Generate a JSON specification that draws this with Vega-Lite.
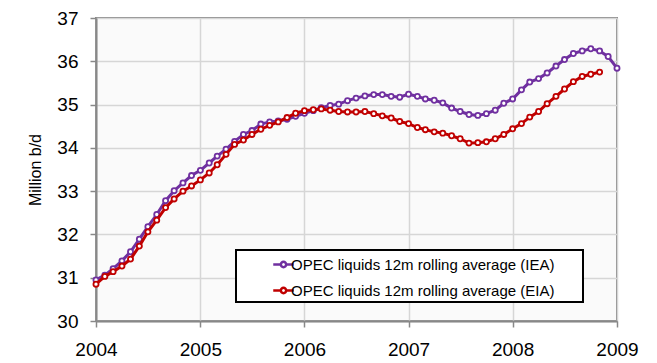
{
  "$schema": "https://vega.github.io/schema/vega-lite/v6.json",
  "width": 521,
  "height": 303,
  "autosize": {"type": "none"},
  "padding": {"left": 96, "top": 18, "right": 40, "bottom": 42},
  "background": "white",
  "config": {
    "font": "Liberation Sans",
    "view": {"fill": "#fafafa", "stroke": "#888888", "strokeWidth": 2},
    "axis": {
      "domainColor": "#888888",
      "domainWidth": 2,
      "tickColor": "#888888",
      "tickWidth": 1.5,
      "gridColor": "#d6d6d6",
      "gridWidth": 1.5,
      "labelColor": "black",
      "labelFont": "Liberation Sans",
      "titleFont": "Liberation Sans",
      "titleColor": "black",
      "titleFontWeight": "normal"
    },
    "legend": {
      "labelFont": "Liberation Sans",
      "strokeWidth": 2
    }
  },
  "datasets": {
    "iea": [
      {"date": "2004-01-01", "value": 30.95},
      {"date": "2004-02-01", "value": 31.06},
      {"date": "2004-03-01", "value": 31.21},
      {"date": "2004-04-01", "value": 31.39},
      {"date": "2004-05-01", "value": 31.60},
      {"date": "2004-06-01", "value": 31.89},
      {"date": "2004-07-01", "value": 32.18},
      {"date": "2004-08-01", "value": 32.46},
      {"date": "2004-09-01", "value": 32.78},
      {"date": "2004-10-01", "value": 33.01},
      {"date": "2004-11-01", "value": 33.19},
      {"date": "2004-12-01", "value": 33.36},
      {"date": "2005-01-01", "value": 33.48},
      {"date": "2005-02-01", "value": 33.65},
      {"date": "2005-03-01", "value": 33.81},
      {"date": "2005-04-01", "value": 33.97},
      {"date": "2005-05-01", "value": 34.15},
      {"date": "2005-06-01", "value": 34.31},
      {"date": "2005-07-01", "value": 34.40},
      {"date": "2005-08-01", "value": 34.55},
      {"date": "2005-09-01", "value": 34.60},
      {"date": "2005-10-01", "value": 34.62},
      {"date": "2005-11-01", "value": 34.66},
      {"date": "2005-12-01", "value": 34.73},
      {"date": "2006-01-01", "value": 34.80},
      {"date": "2006-02-01", "value": 34.86},
      {"date": "2006-03-01", "value": 34.93},
      {"date": "2006-04-01", "value": 34.98},
      {"date": "2006-05-01", "value": 35.01},
      {"date": "2006-06-01", "value": 35.09},
      {"date": "2006-07-01", "value": 35.15},
      {"date": "2006-08-01", "value": 35.20},
      {"date": "2006-09-01", "value": 35.23},
      {"date": "2006-10-01", "value": 35.23},
      {"date": "2006-11-01", "value": 35.19},
      {"date": "2006-12-01", "value": 35.17},
      {"date": "2007-01-01", "value": 35.24},
      {"date": "2007-02-01", "value": 35.19},
      {"date": "2007-03-01", "value": 35.13},
      {"date": "2007-04-01", "value": 35.10},
      {"date": "2007-05-01", "value": 35.04},
      {"date": "2007-06-01", "value": 34.92},
      {"date": "2007-07-01", "value": 34.84},
      {"date": "2007-08-01", "value": 34.77},
      {"date": "2007-09-01", "value": 34.75},
      {"date": "2007-10-01", "value": 34.79},
      {"date": "2007-11-01", "value": 34.87},
      {"date": "2007-12-01", "value": 35.03},
      {"date": "2008-01-01", "value": 35.13},
      {"date": "2008-02-01", "value": 35.34},
      {"date": "2008-03-01", "value": 35.52},
      {"date": "2008-04-01", "value": 35.60},
      {"date": "2008-05-01", "value": 35.73},
      {"date": "2008-06-01", "value": 35.89},
      {"date": "2008-07-01", "value": 36.04},
      {"date": "2008-08-01", "value": 36.18},
      {"date": "2008-09-01", "value": 36.24},
      {"date": "2008-10-01", "value": 36.29},
      {"date": "2008-11-01", "value": 36.24},
      {"date": "2008-12-01", "value": 36.11},
      {"date": "2009-01-01", "value": 35.84}
    ],
    "eia": [
      {"date": "2004-01-01", "value": 30.85},
      {"date": "2004-02-01", "value": 31.03},
      {"date": "2004-03-01", "value": 31.14},
      {"date": "2004-04-01", "value": 31.27},
      {"date": "2004-05-01", "value": 31.43},
      {"date": "2004-06-01", "value": 31.73},
      {"date": "2004-07-01", "value": 32.06},
      {"date": "2004-08-01", "value": 32.33},
      {"date": "2004-09-01", "value": 32.62},
      {"date": "2004-10-01", "value": 32.82},
      {"date": "2004-11-01", "value": 33.00},
      {"date": "2004-12-01", "value": 33.12},
      {"date": "2005-01-01", "value": 33.26},
      {"date": "2005-02-01", "value": 33.42},
      {"date": "2005-03-01", "value": 33.61},
      {"date": "2005-04-01", "value": 33.85},
      {"date": "2005-05-01", "value": 34.08},
      {"date": "2005-06-01", "value": 34.18},
      {"date": "2005-07-01", "value": 34.31},
      {"date": "2005-08-01", "value": 34.43},
      {"date": "2005-09-01", "value": 34.52},
      {"date": "2005-10-01", "value": 34.60},
      {"date": "2005-11-01", "value": 34.70},
      {"date": "2005-12-01", "value": 34.80},
      {"date": "2006-01-01", "value": 34.86},
      {"date": "2006-02-01", "value": 34.88},
      {"date": "2006-03-01", "value": 34.90},
      {"date": "2006-04-01", "value": 34.87},
      {"date": "2006-05-01", "value": 34.84},
      {"date": "2006-06-01", "value": 34.83},
      {"date": "2006-07-01", "value": 34.83},
      {"date": "2006-08-01", "value": 34.84},
      {"date": "2006-09-01", "value": 34.79},
      {"date": "2006-10-01", "value": 34.74},
      {"date": "2006-11-01", "value": 34.69},
      {"date": "2006-12-01", "value": 34.61},
      {"date": "2007-01-01", "value": 34.56},
      {"date": "2007-02-01", "value": 34.47},
      {"date": "2007-03-01", "value": 34.42},
      {"date": "2007-04-01", "value": 34.37},
      {"date": "2007-05-01", "value": 34.34},
      {"date": "2007-06-01", "value": 34.28},
      {"date": "2007-07-01", "value": 34.21},
      {"date": "2007-08-01", "value": 34.11},
      {"date": "2007-09-01", "value": 34.12},
      {"date": "2007-10-01", "value": 34.14},
      {"date": "2007-11-01", "value": 34.21},
      {"date": "2007-12-01", "value": 34.31},
      {"date": "2008-01-01", "value": 34.44},
      {"date": "2008-02-01", "value": 34.56},
      {"date": "2008-03-01", "value": 34.71},
      {"date": "2008-04-01", "value": 34.84},
      {"date": "2008-05-01", "value": 35.02},
      {"date": "2008-06-01", "value": 35.19},
      {"date": "2008-07-01", "value": 35.36},
      {"date": "2008-08-01", "value": 35.53},
      {"date": "2008-09-01", "value": 35.65},
      {"date": "2008-10-01", "value": 35.70},
      {"date": "2008-11-01", "value": 35.75}
    ]
  },
  "encoding": {
    "x": {
      "field": "date",
      "type": "temporal",
      "scale": {
        "type": "utc",
        "domain": [
          {"year": 2004, "month": 1, "date": 1, "utc": true},
          {"year": 2009, "month": 1, "date": 1, "utc": true}
        ]
      },
      "axis": {
        "title": null,
        "format": "%Y",
        "tickCount": {"interval": "year", "step": 1},
        "labelFontSize": 19,
        "labelPadding": 13,
        "tickSize": 6,
        "labelFlush": false,
        "labelOverlap": false
      }
    },
    "y": {
      "field": "value",
      "type": "quantitative",
      "scale": {"domain": [30, 37], "zero": false, "nice": false},
      "axis": {
        "title": "Million b/d",
        "titleFontSize": 16,
        "titlePadding": 13,
        "values": [30, 31, 32, 33, 34, 35, 36, 37],
        "labelFontSize": 19,
        "labelPadding": 12,
        "tickSize": 6,
        "labelFlush": false
      }
    }
  },
  "layer": [
    {
      "data": {"name": "iea"},
      "mark": {
        "type": "line",
        "strokeWidth": 3,
        "point": {"filled": false, "fill": "white", "size": 26, "strokeWidth": 1.8}
      },
      "encoding": {
        "color": {
          "datum": "OPEC liquids 12m rolling average (IEA)",
          "type": "nominal",
          "scale": {
            "domain": ["OPEC liquids 12m rolling average (IEA)", "OPEC liquids 12m rolling average (EIA)"],
            "range": ["#7030a0", "#c00000"]
          },
          "legend": {
            "title": "\u2800",
            "titleOrient": "right",
            "titlePadding": 20,
            "titleFontSize": 8,
            "titleColor": "white",
            "orient": "none",
            "legendX": 140,
            "legendY": 232,
            "direction": "vertical",
            "strokeColor": "black",
            "fillColor": "white",
            "padding": 3,
            "symbolOffset": 33,
            "symbolType": "M-1,0L-0.26,0M0.26,0L1,0M-0.26,0A0.26,0.26 0 1,0 0.26,0A0.26,0.26 0 1,0 -0.26,0Z",
            "symbolSize": 420,
            "symbolStrokeWidth": 2.5,
            "symbolFillColor": "white",
            "labelFontSize": 15,
            "labelColor": "black",
            "labelOffset": -4,
            "rowPadding": 6,
            "labelLimit": 450
          }
        }
      }
    },
    {
      "data": {"name": "eia"},
      "mark": {
        "type": "line",
        "strokeWidth": 3,
        "point": {"filled": false, "fill": "white", "size": 26, "strokeWidth": 1.8}
      },
      "encoding": {
        "color": {
          "datum": "OPEC liquids 12m rolling average (EIA)",
          "type": "nominal"
        }
      }
    }
  ]
}
